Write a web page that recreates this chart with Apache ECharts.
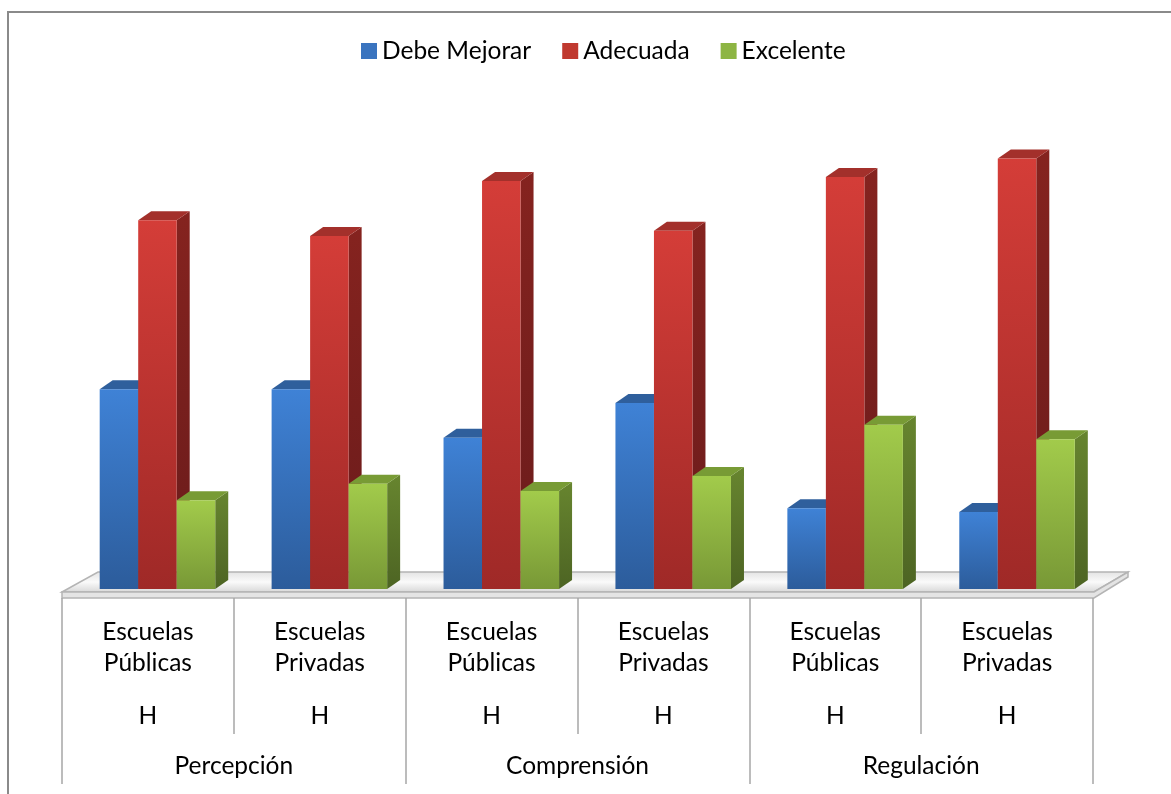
<!DOCTYPE html>
<html>
<head>
<meta charset="utf-8">
<script src="https://cdn.jsdelivr.net/npm/echarts@6/dist/echarts.min.js"></script>
<style>
  html, body { margin: 0; padding: 0; background: #fff; }
  #chart { width: 1171px; height: 794px; }
</style>
</head>
<body>
<div id="chart"></div>
<script>
// categories
const schools = ['Escuelas Públicas', 'Escuelas Privadas', 'Escuelas Públicas', 'Escuelas Privadas', 'Escuelas Públicas', 'Escuelas Privadas']
const sexLabels = ['H', 'H', 'H', 'H', 'H', 'H']
const dimensions = ['Percepción', 'Comprensión', 'Regulación']
const seriesNames = ['Debe Mejorar', 'Adecuada', 'Excelente']

// percentages
const debeMejorar = [30.4, 30.4, 23.0, 28.3, 12.3, 11.7]
const adecuada    = [56.1, 53.7, 62.1, 54.5, 62.7, 65.5]
const excelente   = [13.5, 16.0, 14.9, 17.2, 25.0, 22.8]

const FONT = 'Lato'
const FS = 24.5
const DEPTH_X = 13, DEPTH_Y = 9

const palette = [
  { front: ['#3f82d6', '#2c5c9b'], side: ['#2b548c', '#203f6a'], top: '#2f5f9c', legend: '#3a74bf' },
  { front: ['#d43d38', '#9f2927'], side: ['#85231f', '#6a1b1b'], top: '#a3302b', legend: '#c0392f' },
  { front: ['#a2cb4b', '#789836'], side: ['#67852f', '#4d6423'], top: '#789b35', legend: '#8db543' },
]

const grad = (a, b) => new echarts.graphic.LinearGradient(0, 0, 0, 1, [
  { offset: 0, color: a }, { offset: 1, color: b },
])

function renderBar(params, api) {
  const cat = api.value(0)
  const val = api.value(1)
  const catW = api.size([1, 0])[0]
  const bw = catW * 0.224
  const top = api.coord([cat, val])
  const base = api.coord([cat, 0])
  const x0 = top[0] + (params.seriesIndex - 1) * bw - bw / 2
  const x1 = x0 + bw
  const yt = top[1], yb = base[1]
  const c = palette[params.seriesIndex]
  return {
    type: 'group',
    children: [
      {
        type: 'polygon',
        shape: { points: [[x1, yt], [x1 + DEPTH_X, yt - DEPTH_Y], [x1 + DEPTH_X, yb - DEPTH_Y], [x1, yb]] },
        style: { fill: grad(c.side[0], c.side[1]) },
      },
      {
        type: 'polygon',
        shape: { points: [[x0, yt], [x0 + DEPTH_X, yt - DEPTH_Y], [x1 + DEPTH_X, yt - DEPTH_Y], [x1, yt]] },
        style: { fill: c.top },
      },
      {
        type: 'rect',
        shape: { x: x0, y: yt, width: bw, height: yb - yt },
        style: { fill: grad(c.front[0], c.front[1]) },
      },
    ],
  }
}

const values = [debeMejorar, adecuada, excelente]

const chart = echarts.init(document.getElementById('chart'), null, { renderer: 'canvas' })

chart.setOption({
  backgroundColor: '#fff',
  animation: false,
  textStyle: { fontFamily: FONT },
  legend: {
    left: 356, top: 33,
    icon: 'rect',
    itemWidth: 16, itemHeight: 16,
    itemGap: 31,
    textStyle: { fontFamily: FONT, fontSize: FS, color: '#000', lineHeight: 26 },
    data: seriesNames.map((n, i) => ({ name: n, itemStyle: { color: palette[i].legend } })),
  },
  grid: [
    { left: 71.5, width: 1031.5, top: 129, height: 460 },
    { left: 62, width: 1031, top: 597, height: 1 },
    { left: 62, width: 1031, top: 597, height: 1 },
  ],
  xAxis: [
    { type: 'category', gridIndex: 0, data: schools.map((s, i) => i), show: false },
    {
      type: 'category', gridIndex: 1, data: schools,
      axisLine: { show: false },
      axisTick: { show: true, interval: 0, length: 136, lineStyle: { color: '#a6a6a6', width: 1.5 } },
      axisLabel: {
        interval: 0, margin: 18.5,
        formatter: (v, i) => v.split(' ').map(w => `{a|${w}}`).join('\n') + `\n{h|${sexLabels[i]}}`,
        rich: {
          a: { fontFamily: FONT, fontSize: FS, lineHeight: 31, color: '#000' },
          h: { fontFamily: FONT, fontSize: FS, lineHeight: 75, color: '#000' },
        },
      },
    },
    {
      type: 'category', gridIndex: 2, data: dimensions,
      axisLine: { show: false },
      axisTick: { show: true, interval: 0, length: 186, lineStyle: { color: '#a6a6a6', width: 1.5 } },
      axisLabel: { interval: 0, margin: 155.5, fontFamily: FONT, fontSize: FS, lineHeight: 26, color: '#000' },
    },
  ],
  yAxis: [
    { type: 'value', gridIndex: 0, min: 0, max: 70, show: false },
    { type: 'value', gridIndex: 1, show: false },
    { type: 'value', gridIndex: 2, show: false },
  ],
  graphic: [
    {
      type: 'polyline', z: 0,
      shape: { points: [[8, 794], [8, 12], [1171, 12]] },
      style: { stroke: '#8a8a8a', lineWidth: 2, fill: null },
    },
    {
      type: 'polygon', z: 0,
      shape: { points: [[62, 592], [98, 572], [1128, 572], [1094, 592]] },
      style: {
        fill: new echarts.graphic.LinearGradient(0, 0, 0, 1, [
          { offset: 0, color: '#e2e2e2' }, { offset: 0.5, color: '#fafafa' }, { offset: 1, color: '#d6d6d6' },
        ]),
        stroke: '#b4b4b4', lineWidth: 1.5,
      },
    },
    {
      type: 'polygon', z: 0,
      shape: { points: [[62, 592], [1094, 592], [1128, 572], [1128, 577], [1094, 598], [62, 598]] },
      style: { fill: '#e4e4e4', stroke: '#b4b4b4', lineWidth: 1.5 },
    },
  ],
  series: values.map((arr, i) => ({
    name: seriesNames[i],
    type: 'custom',
    xAxisIndex: 0, yAxisIndex: 0,
    itemStyle: { color: palette[i].legend },
    renderItem: renderBar,
    data: arr.map((v, k) => [k, v]),
    z: 2,
  })),
})
</script>
</body>
</html>
